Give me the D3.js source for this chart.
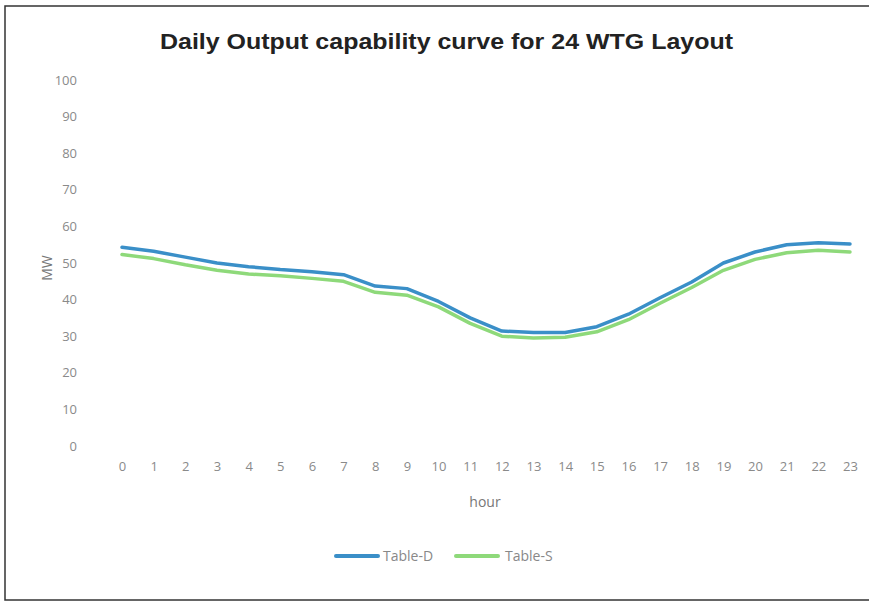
<!DOCTYPE html>
<html><head><meta charset="utf-8">
<script src="https://cdn.jsdelivr.net/npm/d3@7"></script>
<style>body{margin:0;background:#fff;} text{font-family:"Open Sans","DejaVu Sans",sans-serif;}</style>
</head><body>
<svg id="c" width="869" height="604"></svg>
<script>
const hours = d3.range(0,24);
const hourLabels = hours.map(String);
const yTicks = [0,10,20,30,40,50,60,70,80,90,100];
const tableD = [54.3,53.2,51.6,50.0,49.0,48.2,47.6,46.8,43.7,43.0,39.5,35.0,31.4,31.0,31.0,32.6,36.0,40.5,44.8,50.0,53.0,55.0,55.5,55.2];
const tableS = [52.3,51.2,49.5,48.0,47.0,46.5,45.8,45.0,42.0,41.2,38.0,33.5,30.0,29.5,29.7,31.2,34.5,39.0,43.3,48.0,51.0,52.8,53.5,53.0];
const seriesNames = ["Table-D","Table-S"];
const colors = ["#3a8fc8","#8ed97a"];

const svg = d3.select("#c");
svg.append("rect").attr("x",5).attr("y",6).attr("width",868).attr("height",594)
  .attr("fill","none").attr("stroke","#333").attr("stroke-width",1.5);

svg.append("text").attr("x",160).attr("y",49).attr("textLength",573).attr("lengthAdjust","spacingAndGlyphs")
  .style("font-family","'Liberation Sans',Arial,sans-serif").style("font-weight","bold")
  .style("font-size","22px").attr("fill","#222")
  .text("Daily Output capability curve for 24 WTG Layout");

const x = d3.scalePoint().domain(hours).range([122,850]);
const y = d3.scaleLinear().domain([0,100]).range([446,80]);

const yAxis = svg.append("g").attr("transform","translate(80,0)")
  .call(d3.axisLeft(y).tickValues(yTicks).tickSize(0).tickPadding(3));
yAxis.select(".domain").remove();
yAxis.selectAll("text").attr("fill","#8a8a8a").style("font-size","13px").attr("dy","0.32em");

const xAxis = svg.append("g").attr("transform","translate(0,462)")
  .call(d3.axisBottom(x).tickFormat((d,i)=>hourLabels[i]).tickSize(0).tickPadding(0));
xAxis.select(".domain").remove();
xAxis.selectAll("text").attr("fill","#8a8a8a").style("font-size","13px");

svg.append("text").attr("transform","translate(52,268) rotate(-90)").attr("text-anchor","middle")
  .attr("fill","#777").style("font-size","14px").text("MW");
svg.append("text").attr("x",485).attr("y",507).attr("text-anchor","middle")
  .attr("fill","#777").style("font-size","14px").text("hour");

const line = d3.line().x((d,i)=>x(hours[i])).y(d=>y(d));
[tableD,tableS].forEach((s,k)=>{
  svg.append("path").datum(s).attr("d",line).attr("fill","none")
    .attr("stroke",colors[k]).attr("stroke-width",3.5).attr("stroke-linejoin","round").attr("stroke-linecap","round");
});

const lg = [[336,383],[456,505]];
seriesNames.forEach((n,k)=>{
  svg.append("line").attr("x1",lg[k][0]).attr("x2",lg[k][0]+42).attr("y1",556).attr("y2",556)
    .attr("stroke",colors[k]).attr("stroke-width",4).attr("stroke-linecap","round");
  svg.append("text").attr("x",lg[k][1]).attr("y",561).attr("fill","#888").style("font-size","14px").text(n);
});
</script>
</body></html>
